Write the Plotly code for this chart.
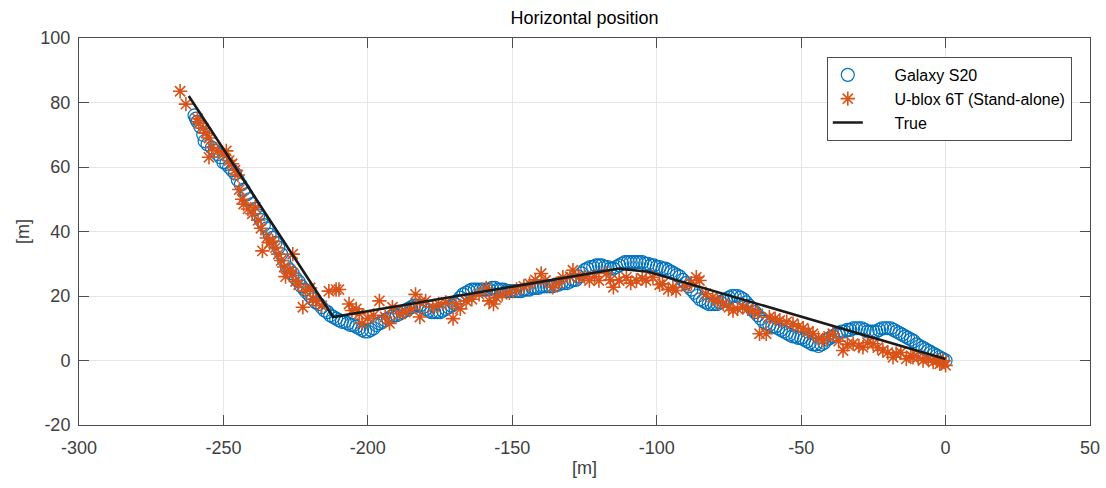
import plotly.graph_objects as go

# ---- Galaxy S20 ----
galaxy_pts = [(-260,76),(-259.5,75),(-259,74),(-258,72.5),(-257,70),(-256.5,68),(-255.5,67),(-254,66),(-253,65),(-252,64),
(-251,63),(-250,61.5),(-249,61),(-248,60),(-247,59),(-246,58),(-245,56),(-244,54.5),(-243,53),(-242,51.5),
(-241,50),(-240,48.5),(-239,47),(-238,45),(-237,43.5),(-236,42),(-235,41),(-234,39),(-233,38),(-232,36.5),
(-231,35),(-230,33),(-229,31),(-228,29),(-227,28),(-226,27),(-225,25.5),(-224,24.5),(-223,23),(-222,22),
(-221,21),(-220,20),(-219,19),(-218,18),(-217,17.5),(-216,16.5),(-215,15.5),(-214,15),(-213,14),(-212,13.5),
(-211,13),(-210,12.5),(-209,12),(-208,12),(-207,11.5),(-206,11),(-205,11),(-204,10.5),(-203,10),(-202,9.5),
(-201,9),(-200,9),(-199,9.5),(-198,10),(-197,11),(-196,11.5),(-195,12),(-194,12.5),(-193,13),(-192,13.5),
(-191,14),(-190,14),(-189,14.5),(-188,15),(-187,15.5),(-186,16),(-185,16.5),(-184,17),(-183,17),(-182,17),
(-181,16.5),(-180,16),(-179,15.5),(-178,15),(-177,15),(-176,15),(-175,15),(-174,15.5),(-173,16),(-172,16.5),
(-171,17),(-170,17.5),(-169,18.5),(-168,19.5),(-167,20.5),(-166,21),(-165,21.5),(-164,22),(-163,22),(-162,22),
(-161,22),(-160,22),(-159,22),(-158,22),(-157,22.5),(-156,22.5),(-155,22),(-154,22),(-153,22),(-152,21.5),
(-151,21.5),(-150,21.5),(-149,21.5),(-148,21.5),(-147,21.5),(-146,22),(-145,22),(-144,22),(-143,22.5),(-142,22.5),
(-141,22.5),(-140,23),(-139,23),(-138,23),(-137,23),(-136,23),(-135,23.5),(-134,23.5),(-133,24),(-132,24),
(-131,24),(-130,24.5),(-129,25),(-128,25),(-127,26),(-126,27),(-125,28),(-124,28.5),(-123,29),(-122,29),
(-121,29.5),(-120,29.5),(-119,29.5),(-118,29),(-117,29),(-116,28.5),(-115,28.5),(-114,29),(-113,29.5),(-112,30),
(-111,30.5),(-110,30.5),(-109,30.5),(-108,30.5),(-107,30.5),(-106,30.5),(-105,30.5),(-104,30),(-103,30),(-102,29.5),
(-101,29.5),(-100,29),(-99,29),(-98,28.5),(-97,28.5),(-96,28),(-95,27.5),(-94,27),(-93,26.5),(-92,26),
(-91,25),(-90,24),(-89,23),(-88,22),(-87,21),(-86,20),(-85,19),(-84,18.5),(-83,18),(-82,17.5),
(-81,17.5),(-80,17.5),(-79,17.5),(-78,18),(-77,18.5),(-76,19),(-75,19.5),(-74,20),(-73,20),(-72,20),
(-71,19.5),(-70,19),(-69,18),(-68,17),(-67,16),(-66,15),(-65,14),(-64,13),(-63,12),(-62,11.5),
(-61,11),(-60,10.5),(-59,10.5),(-58,10),(-57,9.5),(-56,9),(-55,8.5),(-54,8),(-53,7.5),(-52,7.5),
(-51,7),(-50,7),(-49,6.5),(-48,6),(-47,5.5),(-46,5),(-45,5),(-44,4.5),(-43,5),(-42,5.5),
(-41,6.5),(-40,7),(-39,7.5),(-38,8),(-37,8.5),(-36,9),(-35,9),(-34,9.5),(-33,9.5),(-32,10),
(-31,10),(-30,10),(-29,10),(-28,9.5),(-27,9),(-26,9),(-25,9),(-24,9),(-23,9.5),(-22,10),
(-21,10),(-20,10),(-19,10),(-18,9.5),(-17,9),(-16,8.5),(-15,8),(-14,7.5),(-13,7),(-12,6.5),
(-11,6),(-10,5),(-9,4.5),(-8,4),(-7,3.5),(-6,3),(-5,2.5),(-4,2),(-3,1.5),(-2,1),(-1,0.5),(0,0)]
galaxy_x = [p[0] for p in galaxy_pts]
galaxy_y = [p[1] for p in galaxy_pts]

# ---- U-blox 6T (Stand-alone) ----
ublox_pts = [(-265,83.5),(-263,79.5),(-259,75),(-258.5,73.5),(-257,72),(-256,70.5),(-255,69),(-254,66),(-255,63),(-252,65),
(-250,64),(-249,65),(-248,62),(-247,61),(-246,59),(-245,57.5),(-244.5,53),(-243.5,50),(-243,48.5),(-241.5,47),
(-240,45.5),(-239,47.5),(-238,43.5),(-237,41),(-236.5,34),(-235,38),(-234,36.5),(-233,37),(-232,35),(-231,33),
(-230,31),(-229,29),(-228.5,26),(-227,28),(-226,33),(-226,27),(-225,24.5),(-224,23.5),(-222.5,16.5),(-221.5,21.5),
(-220,22.5),(-219,19),(-218,18.5),(-216,17),(-213.5,21.5),(-211,22),(-210,22),(-206.5,17.5),(-205.5,15.5),(-204,16),
(-203,14.5),(-202,11.5),(-200,13),(-198,14),(-196,18.5),(-194,13.5),(-192.5,11.5),(-191.5,16.5),(-189,14.5),(-187,15),
(-185,16),(-183.5,20.5),(-182,13.5),(-182,18),(-180,18.5),(-177.5,16.5),(-175.5,17.5),(-173,18),(-170.5,13),(-169.5,17.5),
(-168,16),(-166,18.5),(-164,19),(-161.5,20.5),(-159,22.5),(-158,18.5),(-156.5,17.5),(-155.5,19.5),(-153.5,20.5),(-151,21),
(-148.5,22),(-146,23),(-144,23.8),(-142,25),(-140,27),(-138.5,24.8),(-136,22.7),(-134,24),(-132.5,25.8),(-130,26),
(-129,28),(-127,25.8),(-125,26),(-123.3,24.8),(-121.5,26),(-120,24.8),(-117.5,27),(-116,25),(-115,22.7),(-113,24.8),
(-110.5,25.8),(-109,24),(-107,24.8),(-105,25.5),(-103.7,24.8),(-101.3,25.8),(-99,23.5),(-98,23.8),(-96,22),(-94.4,22.7),
(-93.3,21.7),(-90,23),(-88,24),(-86.3,25.8),(-85.2,24.8),(-83,20.7),(-80.6,19.6),(-79,18.5),(-77,17.6),(-75,16.5),
(-73.6,15.5),(-72,16),(-70.2,16.5),(-68.5,16),(-66.7,15.5),(-65,14.5),(-64.4,8.3),(-62.1,8.3),(-61,13.4),(-59,13),
(-57.4,12.4),(-55,12),(-52.8,11.4),(-51,10.5),(-49.3,10),(-47.5,9),(-45.9,8.3),(-44,7),(-42.4,6.2),(-40.5,7.5),
(-39,8.3),(-37,6),(-35.5,3.1),(-34,5),(-32,5.2),(-30,4.5),(-28.6,4.1),(-27,5.5),(-25.1,5.2),(-23.5,4),
(-21.7,3.1),(-20,2.5),(-18.2,1.0),(-17.1,2.1),(-15.5,2.5),(-13.6,0.5),(-12,1.5),(-11.3,1.0),(-9.5,1),(-7.8,0),
(-6,0.5),(-4.3,-0.5),(-3,0),(-2,-1),(-0.9,0),(0,-1.5),(-1.5,-0.5)]
ublox_x = [p[0] for p in ublox_pts]
ublox_y = [p[1] for p in ublox_pts]

# ---- True trajectory ----
true_x = [-262, -212, -113, -103, 0]
true_y = [82, 13.5, 28.5, 27.5, 0.5]

x_ticks = [-300, -250, -200, -150, -100, -50, 0, 50]
y_ticks = [-20, 0, 20, 40, 60, 80, 100]
series_names = ["Galaxy S20", "U-blox 6T (Stand-alone)", "True"]

AX = "#4d4d4d"
TXT = "#404040"
FONT = "Liberation Sans, Arial, Helvetica, sans-serif"
PAD = "\u00a0" * 6

fig = go.Figure()
fig.add_trace(go.Scatter(x=galaxy_x, y=galaxy_y, mode="markers", name=PAD + series_names[0],
                         marker=dict(symbol="circle-open", size=13, color="#0072BD",
                                     line=dict(width=1.2, color="#0072BD"))))
fig.add_trace(go.Scatter(x=ublox_x, y=ublox_y, mode="markers", name=PAD + series_names[1],
                         marker=dict(symbol="asterisk-open", size=12, color="#D95319",
                                     line=dict(width=1.6, color="#D95319"))))
fig.add_trace(go.Scatter(x=true_x, y=true_y, mode="lines", name=PAD + series_names[2],
                         line=dict(color="#1a1a1a", width=2.6)))

fig.update_layout(
    width=1106, height=488,
    margin=dict(l=79, r=16, t=38, b=63, autoexpand=False),
    paper_bgcolor="white", plot_bgcolor="white",
    font=dict(family=FONT, size=18, color=TXT),
    title=dict(text="Horizontal position", x=0.5, xref="paper", xanchor="center",
               y=1 - 18/488, yanchor="middle", font=dict(size=18, color="#000000")),
    showlegend=True,
    legend=dict(x=0.982, y=0.951, xanchor="right", yanchor="top",
                bgcolor="white", bordercolor=AX, borderwidth=1,
                font=dict(size=16, color="#000000"), tracegroupgap=0),
)
fig.update_xaxes(range=[-300, 50], tickvals=x_ticks, ticktext=[str(v) for v in x_ticks],
                 automargin=False,
                 showgrid=True, gridcolor="#e6e6e6", gridwidth=1, zeroline=False,
                 showline=True, linecolor=AX, linewidth=1, mirror="ticks",
                 ticks="inside", ticklen=10, tickcolor=AX, ticklabelstandoff=6,
                 title=dict(text="[m]", font=dict(size=18, color=TXT), standoff=4),
                 tickfont=dict(size=18, color=TXT))
fig.update_yaxes(range=[-20, 100], tickvals=y_ticks, ticktext=[str(v) for v in y_ticks],
                 automargin=False,
                 showgrid=True, gridcolor="#e6e6e6", gridwidth=1, zeroline=False,
                 showline=True, linecolor=AX, linewidth=1, mirror="ticks",
                 ticks="inside", ticklen=10, tickcolor=AX, ticklabelstandoff=4,
                 title=dict(text="[m]", font=dict(size=18, color=TXT), standoff=6),
                 tickfont=dict(size=18, color=TXT))

fig.write_html("out.html")
